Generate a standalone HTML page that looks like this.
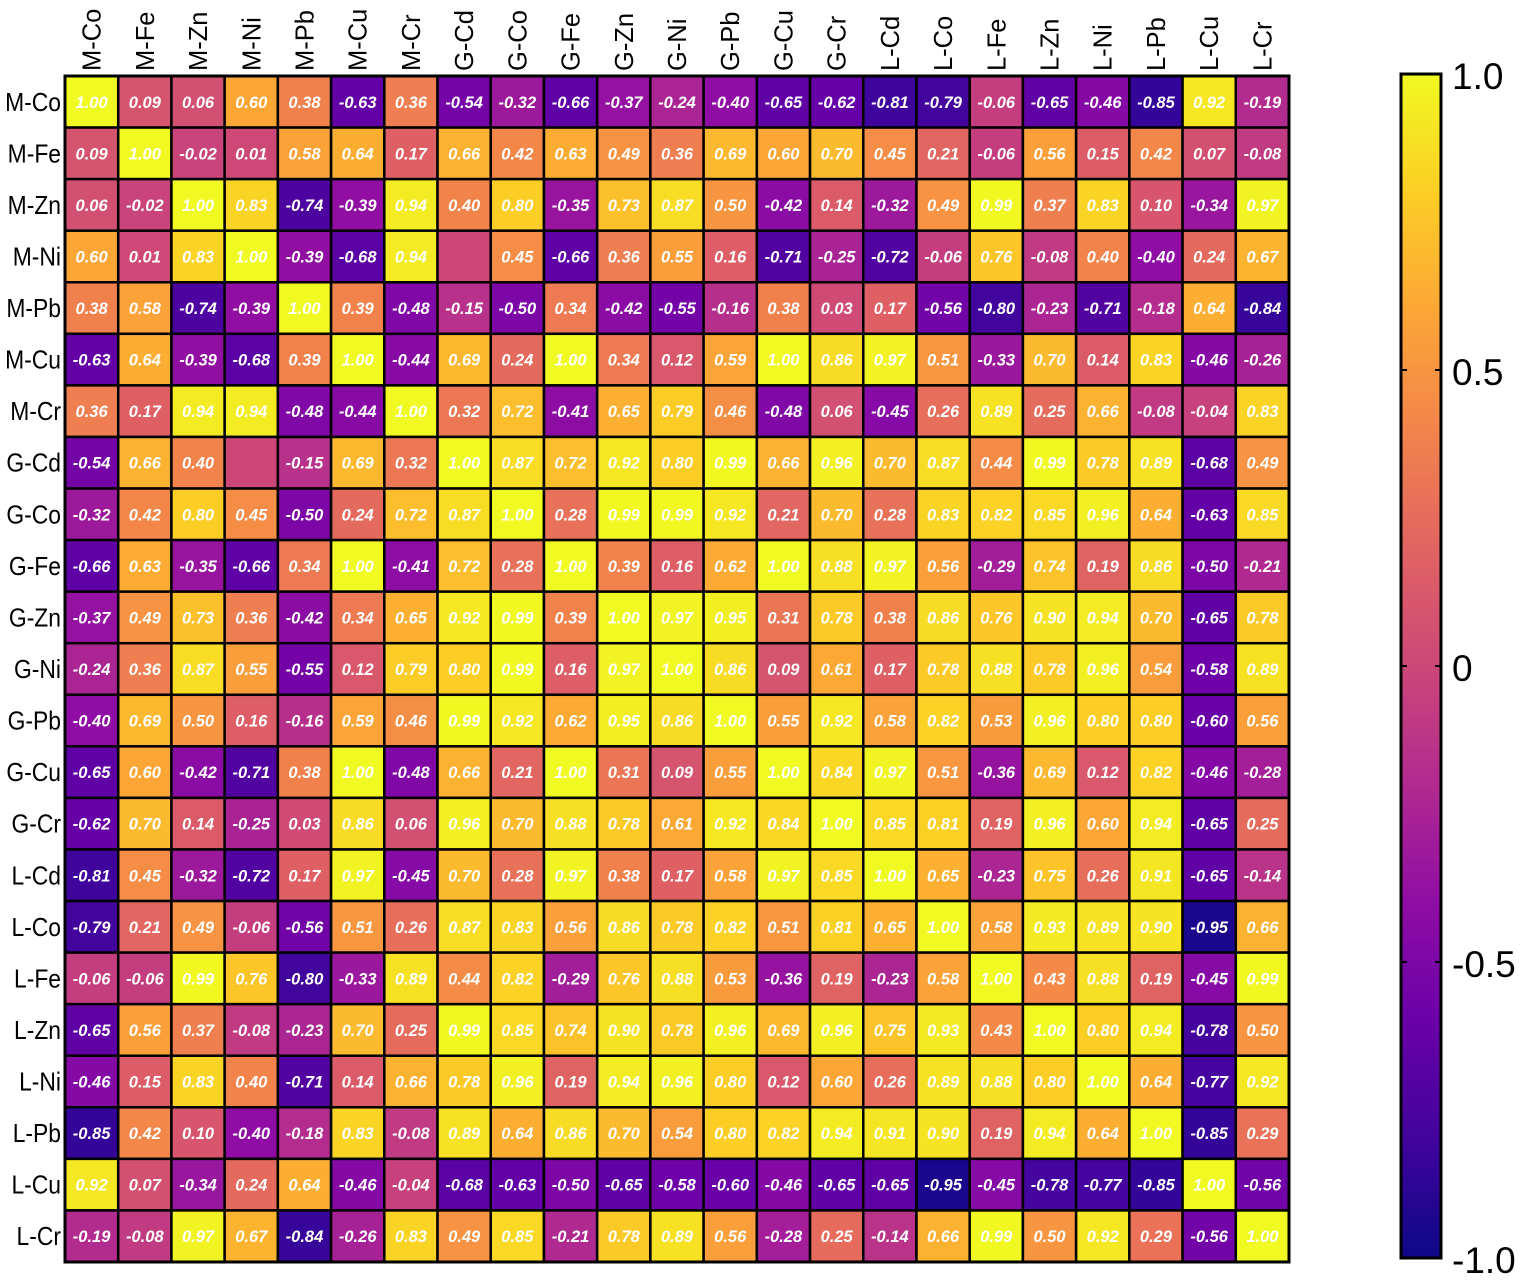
<!DOCTYPE html>
<html><head><meta charset="utf-8"><style>
html,body{margin:0;padding:0;background:#fff;width:1535px;height:1280px;overflow:hidden}
svg{display:block}
</style></head><body>
<svg id="s" width="1535" height="1280" xmlns="http://www.w3.org/2000/svg">
<defs>
<linearGradient id="cb" x1="0" y1="1" x2="0" y2="0">
<stop offset="0" stop-color="#0d0887"/><stop offset="0.1" stop-color="#41049d"/><stop offset="0.2" stop-color="#6a00a8"/><stop offset="0.3" stop-color="#8f0da4"/><stop offset="0.4" stop-color="#b12a90"/><stop offset="0.5" stop-color="#cc4778"/><stop offset="0.6" stop-color="#e16462"/><stop offset="0.7" stop-color="#f2844b"/><stop offset="0.8" stop-color="#fca636"/><stop offset="0.9" stop-color="#fcce25"/><stop offset="1" stop-color="#f0f921"/>
</linearGradient>
</defs>
<g id="g"></g>
<rect x="1401" y="74" width="40" height="1184" fill="url(#cb)" stroke="#000" stroke-width="3"/>
<g stroke="#000" stroke-width="2">
<line x1="1401" y1="370" x2="1407" y2="370"/><line x1="1435" y1="370" x2="1441" y2="370"/>
<line x1="1401" y1="666" x2="1407" y2="666"/><line x1="1435" y1="666" x2="1441" y2="666"/>
<line x1="1401" y1="962" x2="1407" y2="962"/><line x1="1435" y1="962" x2="1441" y2="962"/>
</g>
<g font-family="Liberation Sans, sans-serif" font-size="37" fill="#000">
<text x="1452" y="89">1.0</text>
<text x="1452" y="385">0.5</text>
<text x="1452" y="681">0</text>
<text x="1452" y="977">-0.5</text>
<text x="1452" y="1273">-1.0</text>
</g>
</svg>
<script>
var L=["M-Co","M-Fe","M-Zn","M-Ni","M-Pb","M-Cu","M-Cr","G-Cd","G-Co","G-Fe","G-Zn","G-Ni","G-Pb","G-Cu","G-Cr","L-Cd","L-Co","L-Fe","L-Zn","L-Ni","L-Pb","L-Cu","L-Cr"];
var D=[
"1.00 0.09 0.06 0.60 0.38 -0.63 0.36 -0.54 -0.32 -0.66 -0.37 -0.24 -0.40 -0.65 -0.62 -0.81 -0.79 -0.06 -0.65 -0.46 -0.85 0.92 -0.19",
"0.09 1.00 -0.02 0.01 0.58 0.64 0.17 0.66 0.42 0.63 0.49 0.36 0.69 0.60 0.70 0.45 0.21 -0.06 0.56 0.15 0.42 0.07 -0.08",
"0.06 -0.02 1.00 0.83 -0.74 -0.39 0.94 0.40 0.80 -0.35 0.73 0.87 0.50 -0.42 0.14 -0.32 0.49 0.99 0.37 0.83 0.10 -0.34 0.97",
"0.60 0.01 0.83 1.00 -0.39 -0.68 0.94 X 0.45 -0.66 0.36 0.55 0.16 -0.71 -0.25 -0.72 -0.06 0.76 -0.08 0.40 -0.40 0.24 0.67",
"0.38 0.58 -0.74 -0.39 1.00 0.39 -0.48 -0.15 -0.50 0.34 -0.42 -0.55 -0.16 0.38 0.03 0.17 -0.56 -0.80 -0.23 -0.71 -0.18 0.64 -0.84",
"-0.63 0.64 -0.39 -0.68 0.39 1.00 -0.44 0.69 0.24 1.00 0.34 0.12 0.59 1.00 0.86 0.97 0.51 -0.33 0.70 0.14 0.83 -0.46 -0.26",
"0.36 0.17 0.94 0.94 -0.48 -0.44 1.00 0.32 0.72 -0.41 0.65 0.79 0.46 -0.48 0.06 -0.45 0.26 0.89 0.25 0.66 -0.08 -0.04 0.83",
"-0.54 0.66 0.40 X -0.15 0.69 0.32 1.00 0.87 0.72 0.92 0.80 0.99 0.66 0.96 0.70 0.87 0.44 0.99 0.78 0.89 -0.68 0.49",
"-0.32 0.42 0.80 0.45 -0.50 0.24 0.72 0.87 1.00 0.28 0.99 0.99 0.92 0.21 0.70 0.28 0.83 0.82 0.85 0.96 0.64 -0.63 0.85",
"-0.66 0.63 -0.35 -0.66 0.34 1.00 -0.41 0.72 0.28 1.00 0.39 0.16 0.62 1.00 0.88 0.97 0.56 -0.29 0.74 0.19 0.86 -0.50 -0.21",
"-0.37 0.49 0.73 0.36 -0.42 0.34 0.65 0.92 0.99 0.39 1.00 0.97 0.95 0.31 0.78 0.38 0.86 0.76 0.90 0.94 0.70 -0.65 0.78",
"-0.24 0.36 0.87 0.55 -0.55 0.12 0.79 0.80 0.99 0.16 0.97 1.00 0.86 0.09 0.61 0.17 0.78 0.88 0.78 0.96 0.54 -0.58 0.89",
"-0.40 0.69 0.50 0.16 -0.16 0.59 0.46 0.99 0.92 0.62 0.95 0.86 1.00 0.55 0.92 0.58 0.82 0.53 0.96 0.80 0.80 -0.60 0.56",
"-0.65 0.60 -0.42 -0.71 0.38 1.00 -0.48 0.66 0.21 1.00 0.31 0.09 0.55 1.00 0.84 0.97 0.51 -0.36 0.69 0.12 0.82 -0.46 -0.28",
"-0.62 0.70 0.14 -0.25 0.03 0.86 0.06 0.96 0.70 0.88 0.78 0.61 0.92 0.84 1.00 0.85 0.81 0.19 0.96 0.60 0.94 -0.65 0.25",
"-0.81 0.45 -0.32 -0.72 0.17 0.97 -0.45 0.70 0.28 0.97 0.38 0.17 0.58 0.97 0.85 1.00 0.65 -0.23 0.75 0.26 0.91 -0.65 -0.14",
"-0.79 0.21 0.49 -0.06 -0.56 0.51 0.26 0.87 0.83 0.56 0.86 0.78 0.82 0.51 0.81 0.65 1.00 0.58 0.93 0.89 0.90 -0.95 0.66",
"-0.06 -0.06 0.99 0.76 -0.80 -0.33 0.89 0.44 0.82 -0.29 0.76 0.88 0.53 -0.36 0.19 -0.23 0.58 1.00 0.43 0.88 0.19 -0.45 0.99",
"-0.65 0.56 0.37 -0.08 -0.23 0.70 0.25 0.99 0.85 0.74 0.90 0.78 0.96 0.69 0.96 0.75 0.93 0.43 1.00 0.80 0.94 -0.78 0.50",
"-0.46 0.15 0.83 0.40 -0.71 0.14 0.66 0.78 0.96 0.19 0.94 0.96 0.80 0.12 0.60 0.26 0.89 0.88 0.80 1.00 0.64 -0.77 0.92",
"-0.85 0.42 0.10 -0.40 -0.18 0.83 -0.08 0.89 0.64 0.86 0.70 0.54 0.80 0.82 0.94 0.91 0.90 0.19 0.94 0.64 1.00 -0.85 0.29",
"0.92 0.07 -0.34 0.24 0.64 -0.46 -0.04 -0.68 -0.63 -0.50 -0.65 -0.58 -0.60 -0.46 -0.65 -0.65 -0.95 -0.45 -0.78 -0.77 -0.85 1.00 -0.56",
"-0.19 -0.08 0.97 0.67 -0.84 -0.26 0.83 0.49 0.85 -0.21 0.78 0.89 0.56 -0.28 0.25 -0.14 0.66 0.99 0.50 0.92 0.29 -0.56 1.00"];
var S=[[13,8,135],[65,4,157],[106,0,168],[143,13,164],[177,42,144],[204,71,120],[225,100,98],[242,132,75],[252,166,54],[252,206,37],[240,249,33]];
function col(v){var t=(v+1)/2;t=Math.max(0,Math.min(1,t));var p=t*10,i=Math.min(9,Math.floor(p)),f=p-i;var a=S[i],b=S[i+1];
return "rgb("+[0,1,2].map(function(k){return Math.round(a[k]+(b[k]-a[k])*f)}).join(",")+")";}
var x0=65,y0=76,W=1224/23,H=1186/23,h="";
for(var r=0;r<23;r++){var row=D[r].split(" ");for(var c=0;c<23;c++){var s=row[c],v=s=="X"?0:parseFloat(s);
var x=x0+c*W,y=y0+r*H;h+='<rect x="'+x.toFixed(2)+'" y="'+y.toFixed(2)+'" width="'+W.toFixed(2)+'" height="'+H.toFixed(2)+'" fill="'+col(v)+'" stroke="#000" stroke-width="2.5"/>';
if(s!="X")h+='<text x="'+(x+W/2).toFixed(2)+'" y="'+(y+H/2+6).toFixed(2)+'" text-anchor="middle" font-family="Liberation Sans, sans-serif" font-size="16.5" font-weight="bold" font-style="italic" fill="#fff">'+s+'</text>';}}
h+='<rect x="'+x0+'" y="'+y0+'" width="1224" height="1186" fill="none" stroke="#000" stroke-width="3"/>';
for(var i=0;i<23;i++){
h+='<text transform="translate(61,'+(y0+i*H+H/2+9).toFixed(2)+') scale(0.88,1)" text-anchor="end" font-family="Liberation Sans, sans-serif" font-size="26" fill="#000">'+L[i]+'</text>';
var cx=x0+i*W+W/2+9;h+='<text transform="translate('+cx.toFixed(2)+',71) rotate(-90) scale(0.98,1)" font-family="Liberation Sans, sans-serif" font-size="26" fill="#000">'+L[i]+'</text>';}
document.getElementById("g").innerHTML=h;
</script>
</body></html>
